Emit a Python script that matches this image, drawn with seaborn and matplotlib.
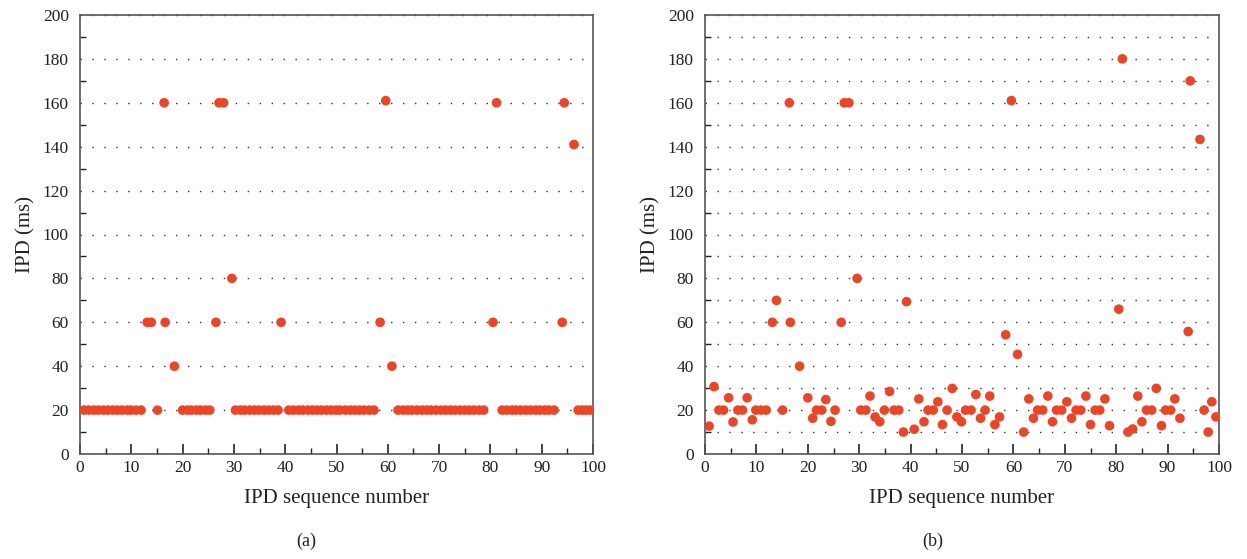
import matplotlib
matplotlib.use("Agg")
import matplotlib.pyplot as plt
import pandas as pd
import seaborn as sns
from matplotlib.ticker import MultipleLocator

# Sequence number of each inter-packet delay
seq = [0.8, 1.75, 2.7, 3.6, 4.6, 5.45, 6.4, 7.3, 8.2, 9.2,
       9.9, 10.9, 11.9, 13.1, 13.9, 15.1, 16.4, 16.6, 18.4, 20.0,
       20.95, 21.7, 22.7, 23.5, 24.5, 25.3, 26.5, 27.1, 28.0, 29.6,
       30.3, 31.3, 32.1, 33.1, 34.0, 34.9, 35.9, 36.8, 37.7, 38.6,
       39.2, 40.7, 41.6, 42.6, 43.4, 44.4, 45.3, 46.2, 47.1, 48.1,
       49.0, 49.9, 50.7, 51.75, 52.7, 53.6, 54.5, 55.4, 56.4, 57.3,
       58.5, 59.6, 60.8, 62.0, 63.0, 63.9, 64.7, 65.7, 66.7, 67.6,
       68.4, 69.4, 70.4, 71.3, 72.2, 73.1, 74.1, 75.0, 75.9, 76.8,
       77.8, 78.7, 80.5, 81.2, 82.3, 83.2, 84.2, 85.0, 85.9, 86.9,
       87.8, 88.8, 89.6, 90.6, 91.4, 92.4, 94.0, 94.4, 96.3, 97.1,
       97.9, 98.6, 99.4]

# (a) quantised IPD values (ms)
ipd_a = [20, 20, 20, 20, 20, 20, 20, 20, 20, 20,
         20, 20, 20, 60, 60, 20, 160, 60, 40, 20,
         20, 20, 20, 20, 20, 20, 60, 160, 160, 80,
         20, 20, 20, 20, 20, 20, 20, 20, 20, 20,
         60, 20, 20, 20, 20, 20, 20, 20, 20, 20,
         20, 20, 20, 20, 20, 20, 20, 20, 20, 20,
         60, 161, 40, 20, 20, 20, 20, 20, 20, 20,
         20, 20, 20, 20, 20, 20, 20, 20, 20, 20,
         20, 20, 60, 160, 20, 20, 20, 20, 20, 20,
         20, 20, 20, 20, 20, 20, 60, 160, 141, 20,
         20, 20, 20]

# (b) measured IPD values (ms)
ipd_b = [12.7, 30.7, 20, 20, 25.6, 14.6, 20, 20, 25.6, 15.6,
         20, 20, 20, 60, 70, 20, 160, 60, 40, 25.6,
         16.3, 20, 20, 24.8, 14.9, 20, 60, 160, 160, 80,
         20, 20, 26.4, 16.9, 14.7, 20, 28.5, 20, 20, 10,
         69.4, 11.3, 25.1, 14.7, 20, 20, 23.8, 13.4, 20, 29.9,
         16.9, 14.7, 20, 20, 27.1, 16.3, 20, 26.4, 13.4, 16.9,
         54.3, 161, 45.4, 10, 25.1, 16.3, 20, 20, 26.4, 14.7,
         20, 20, 23.8, 16.3, 20, 20, 26.4, 13.4, 20, 20,
         25.1, 12.9, 66, 180, 10, 11.4, 26.4, 14.7, 20, 20,
         29.9, 12.9, 20, 20, 25.1, 16.3, 55.8, 170, 143.3, 20,
         10, 23.8, 16.9]

x_ticks = list(range(0, 101, 10))
y_ticks = list(range(0, 201, 20))

sns.set_theme(style="white")
plt.rcParams["font.family"] = ["Liberation Serif", "DejaVu Serif"]

fig = plt.figure(figsize=(12.47, 5.59), dpi=100)
W, H = 1247, 559
ax_a = fig.add_axes([80 / W, 105 / H, 513 / W, 439 / H])
ax_b = fig.add_axes([705 / W, 105 / H, 514 / W, 439 / H])

dot_color = "#EF4423"
dots = (0, (1, 7.6))

for ax, vals, fine_grid in ((ax_a, ipd_a, False), (ax_b, ipd_b, True)):
    df = pd.DataFrame({"seq": seq, "ipd": vals})
    sns.scatterplot(data=df, x="seq", y="ipd", ax=ax, color=dot_color,
                    s=48, edgecolor="none", linewidth=0, zorder=3)
    ax.set_xlim(0, 100)
    ax.set_ylim(0, 200)
    ax.set_xticks(x_ticks)
    ax.set_yticks(y_ticks)
    ax.xaxis.set_minor_locator(MultipleLocator(5))
    ax.yaxis.set_minor_locator(MultipleLocator(10))

    ax.tick_params(which="both", direction="in", left=True, bottom=True,
                   top=False, right=False, colors="#222222", labelsize=12.5)
    ax.tick_params(axis="x", which="major", length=7, width=1.2, pad=4)
    ax.tick_params(axis="x", which="minor", length=4, width=1.0)
    ax.tick_params(axis="y", which="major", length=0, pad=8)
    ax.tick_params(axis="y", which="minor", length=4, width=1.0)

    ax.grid(False)
    ax.grid(axis="y", which="major", linestyle=dots, color="#333333",
            linewidth=1.0)
    if fine_grid:
        ax.grid(axis="y", which="minor", linestyle=dots, color="#333333",
                linewidth=1.0)
    ax.set_axisbelow(True)

    for side in ("left", "bottom", "top", "right"):
        ax.spines[side].set_visible(True)
        ax.spines[side].set_color("#555555")
        ax.spines[side].set_linewidth(1.2)

    ax.set_xlabel("IPD sequence number", fontsize=15, color="#222222",
                  labelpad=10)
    ax.set_ylabel("IPD (ms)", fontsize=15, color="#222222", labelpad=5)

fig.text(306 / W, 1 - 541 / H, "(a)", ha="center", va="center",
         fontsize=13, color="#222222")
fig.text(933 / W, 1 - 541 / H, "(b)", ha="center", va="center",
         fontsize=13, color="#222222")

fig.savefig("out.png", dpi=100, facecolor="white")
